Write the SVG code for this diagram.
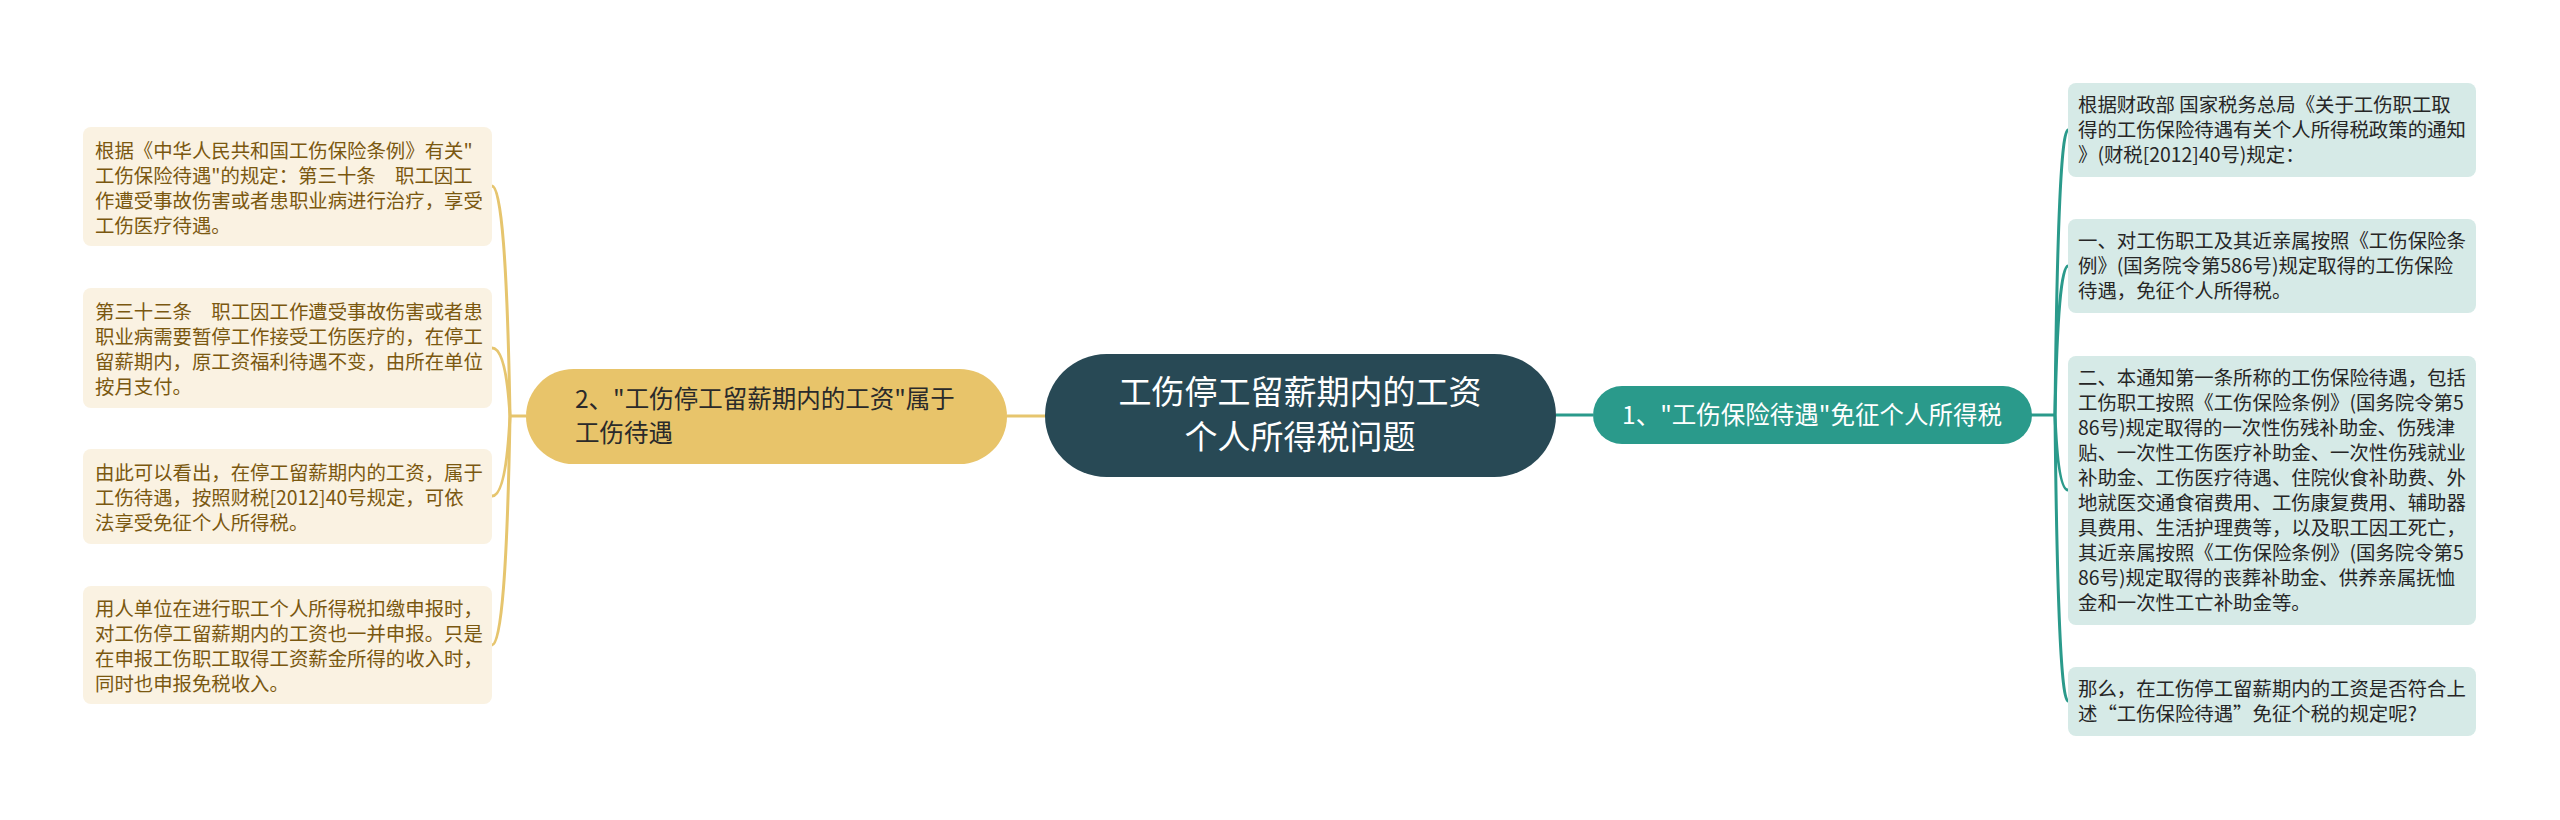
<svg xmlns="http://www.w3.org/2000/svg" width="2560" height="820" viewBox="0 0 2560 820">
<style>
text{font-family:"Noto Sans CJK SC","Noto Sans",sans-serif;}
.lb{fill:#FAF2E2;}
.lt{font-size:19.4px;fill:#7A5810;}
.rb{fill:#D6EAE7;}
.rt{font-size:19.4px;fill:#262626;}
.cy{fill:none;stroke:#E6C56E;stroke-width:3;}
.ct{fill:none;stroke:#2A9A8B;stroke-width:3;}
</style>
<rect width="2560" height="820" fill="#FFFFFF"/>
<g id="connectors">
<path class="cy" d="M1007 416 L1045 416"/>
<path class="cy" d="M526 416 L510 416"/>
<path class="cy" d="M510 416 Q506 186 492 186"/>
<path class="cy" d="M510 416 Q506 348 492 348"/>
<path class="cy" d="M510 416 Q506 496 492 496"/>
<path class="cy" d="M510 416 Q506 645 492 645"/>
<path class="ct" d="M1556 415 L1593 415"/>
<path class="ct" d="M2031 415 L2055 415"/>
<path class="ct" d="M2055 415 Q2058 130 2068 130"/>
<path class="ct" d="M2055 415 Q2058 266 2068 266"/>
<path class="ct" d="M2055 415 Q2058 490 2068 490"/>
<path class="ct" d="M2055 415 Q2058 701 2068 701"/>
</g>
<g id="root">
<rect x="1045" y="354" width="511" height="123" rx="61.5" fill="#284955"/>
<text x="1300" y="404" font-size="33" fill="#FFFFFF" text-anchor="middle">工伤停工留薪期内的工资</text>
<text x="1300" y="449" font-size="33" fill="#FFFFFF" text-anchor="middle">个人所得税问题</text>
</g>
<g id="branch-left">
<rect x="526" y="369" width="481" height="95" rx="47.5" fill="#E8C46A"/>
<text x="575" y="408" font-size="24.5" fill="#2A2A2A">2、"工伤停工留薪期内的工资"属于</text>
<text x="575" y="442" font-size="24.5" fill="#2A2A2A">工伤待遇</text>
</g>
<g id="branch-right">
<rect x="1593" y="386" width="439" height="58" rx="29" fill="#2A9A8B"/>
<text x="1812" y="424" font-size="24.5" fill="#FFFFFF" text-anchor="middle">1、"工伤保险待遇"免征个人所得税</text>
</g>
<g id="left-1">
<rect class="lb" x="83" y="127" width="409" height="119" rx="8"/>
<text class="lt"><tspan x="95" y="158">根据《中华人民共和国工伤保险条例》有关"</tspan><tspan x="95" y="183">工伤保险待遇"的规定：第三十条　职工因工</tspan><tspan x="95" y="208">作遭受事故伤害或者患职业病进行治疗，享受</tspan><tspan x="95" y="233">工伤医疗待遇。</tspan></text>
</g>
<g id="left-2">
<rect class="lb" x="83" y="288" width="409" height="120" rx="8"/>
<text class="lt"><tspan x="95" y="319">第三十三条　职工因工作遭受事故伤害或者患</tspan><tspan x="95" y="344">职业病需要暂停工作接受工伤医疗的，在停工</tspan><tspan x="95" y="369">留薪期内，原工资福利待遇不变，由所在单位</tspan><tspan x="95" y="394">按月支付。</tspan></text>
</g>
<g id="left-3">
<rect class="lb" x="83" y="449" width="409" height="95" rx="8"/>
<text class="lt"><tspan x="95" y="480">由此可以看出，在停工留薪期内的工资，属于</tspan><tspan x="95" y="505">工伤待遇，按照财税[2012]40号规定，可依</tspan><tspan x="95" y="530">法享受免征个人所得税。</tspan></text>
</g>
<g id="left-4">
<rect class="lb" x="83" y="586" width="409" height="118" rx="8"/>
<text class="lt"><tspan x="95" y="616">用人单位在进行职工个人所得税扣缴申报时，</tspan><tspan x="95" y="641">对工伤停工留薪期内的工资也一并申报。只是</tspan><tspan x="95" y="666">在申报工伤职工取得工资薪金所得的收入时，</tspan><tspan x="95" y="691">同时也申报免税收入。</tspan></text>
</g>
<g id="right-1">
<rect class="rb" x="2068" y="83" width="408" height="94" rx="8"/>
<text class="rt"><tspan x="2078" y="112">根据财政部 国家税务总局《关于工伤职工取</tspan><tspan x="2078" y="137">得的工伤保险待遇有关个人所得税政策的通知</tspan><tspan x="2078" y="162">》(财税[2012]40号)规定：</tspan></text>
</g>
<g id="right-2">
<rect class="rb" x="2068" y="219" width="408" height="94" rx="8"/>
<text class="rt"><tspan x="2078" y="248">一、对工伤职工及其近亲属按照《工伤保险条</tspan><tspan x="2078" y="273">例》(国务院令第586号)规定取得的工伤保险</tspan><tspan x="2078" y="298">待遇，免征个人所得税。</tspan></text>
</g>
<g id="right-3">
<rect class="rb" x="2068" y="356" width="408" height="269" rx="8"/>
<text class="rt"><tspan x="2078" y="385">二、本通知第一条所称的工伤保险待遇，包括</tspan><tspan x="2078" y="410">工伤职工按照《工伤保险条例》(国务院令第5</tspan><tspan x="2078" y="435">86号)规定取得的一次性伤残补助金、伤残津</tspan><tspan x="2078" y="460">贴、一次性工伤医疗补助金、一次性伤残就业</tspan><tspan x="2078" y="485">补助金、工伤医疗待遇、住院伙食补助费、外</tspan><tspan x="2078" y="510">地就医交通食宿费用、工伤康复费用、辅助器</tspan><tspan x="2078" y="535">具费用、生活护理费等，以及职工因工死亡，</tspan><tspan x="2078" y="560">其近亲属按照《工伤保险条例》(国务院令第5</tspan><tspan x="2078" y="585">86号)规定取得的丧葬补助金、供养亲属抚恤</tspan><tspan x="2078" y="610">金和一次性工亡补助金等。</tspan></text>
</g>
<g id="right-4">
<rect class="rb" x="2068" y="667" width="408" height="69" rx="8"/>
<text class="rt"><tspan x="2078" y="696">那么，在工伤停工留薪期内的工资是否符合上</tspan><tspan x="2078" y="721">述“工伤保险待遇”免征个税的规定呢?</tspan></text>
</g>
</svg>
